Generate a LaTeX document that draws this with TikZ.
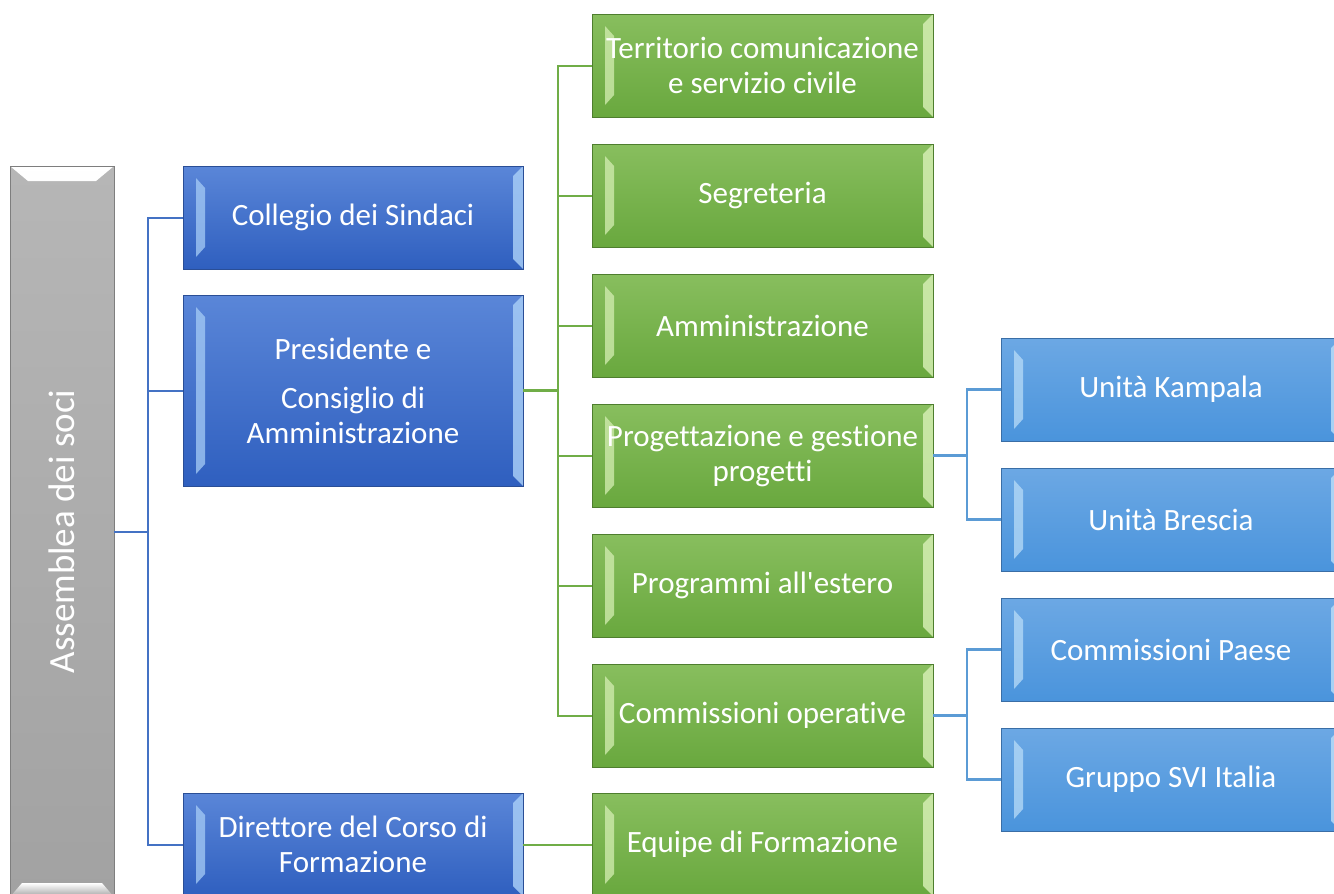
\documentclass[tikz,border=0pt]{standalone}
\usepackage{fontspec}
\setmainfont[Ligatures=NoCommon]{Carlito}
\newfontfamily\calfont[Ligatures=NoCommon]{Carlito}
\usetikzlibrary{calc}
\definecolor{dbT}{HTML}{5A86D8}\definecolor{dbB}{HTML}{2F5FBF}\definecolor{dbL}{HTML}{A6CCF6}\definecolor{dbE}{HTML}{2A4E96}
\definecolor{lbT}{HTML}{6CA8E4}\definecolor{lbB}{HTML}{4A94DC}\definecolor{lbL}{HTML}{B8DCF8}\definecolor{lbE}{HTML}{3A6EA6}
\definecolor{gT}{HTML}{88BE5E}\definecolor{gB}{HTML}{69A83E}\definecolor{gL}{HTML}{D4EEB2}\definecolor{gE}{HTML}{4E7E2E}
\definecolor{grT}{HTML}{B6B6B6}\definecolor{grB}{HTML}{A2A2A2}\definecolor{grE}{HTML}{7E7E7E}
\definecolor{bline}{HTML}{4472C4}\definecolor{gline}{HTML}{70AD47}\definecolor{lline}{HTML}{5B9BD5}
\tikzset{
  box/.style={rectangle, inner sep=0pt, outer sep=0pt, text=white,
    font=\calfont\fontsize{31}{35}\selectfont, align=center, line width=0.8pt},
  bev/.style={path picture={
    \fill[#1, opacity=0.75] ($(path picture bounding box.north west)+(13,12)$)
      -- ($(path picture bounding box.north west)+(22,22)$)
      -- ($(path picture bounding box.south west)+(22,-22)$)
      -- ($(path picture bounding box.south west)+(13,-12)$) -- cycle;
    \fill[#1, opacity=0.85] (path picture bounding box.north east)
      -- ($(path picture bounding box.north east)+(-10,10)$)
      -- ($(path picture bounding box.south east)+(-10,-10)$)
      -- (path picture bounding box.south east) -- cycle;
  }},
  dbox/.style={box, minimum width=340, minimum height=103, top color=dbT, bottom color=dbB, draw=dbE, bev=dbL},
  lbox/.style={box, minimum width=340, minimum height=103, top color=lbT, bottom color=lbB, draw=lbE, bev=lbL},
  gbox/.style={box, minimum width=341, minimum height=103, top color=gT, bottom color=gB, draw=gE, bev=gL},
  greybox/.style={rectangle, inner sep=0pt, outer sep=0pt, minimum width=104, minimum height=731,
    top color=grT, bottom color=grB, draw=grE, line width=0.8pt,
    path picture={
      \shade[top color=white, bottom color=grT] (path picture bounding box.north west)
        -- (path picture bounding box.north east)
        -- ($(path picture bounding box.north east)+(-18,15)$)
        -- ($(path picture bounding box.north west)+(18,15)$) -- cycle;
      \shade[top color=white, bottom color=grB] ($(path picture bounding box.south west)+(12,-14)$)
        -- ($(path picture bounding box.south east)+(-12,-14)$)
        -- (path picture bounding box.south east)
        -- (path picture bounding box.south west) -- cycle;
    }},
  bl/.style={draw=bline, line width=2pt},
  gl/.style={draw=gline, line width=2pt},
  ll/.style={draw=lline, line width=2.2pt},
}
\begin{document}
\begin{tikzpicture}[x=1pt,y=-1pt]
\path[use as bounding box, clip] (0,0) rectangle (1334,894);
\fill[white] (0,0) rectangle (1334,894);

% left column
\node[greybox] (assem) at (62,531.5) {};
\node[rotate=90, text=white, font=\calfont\fontsize{37}{40}\selectfont] (assemt) at (assem.center) {Assemblea dei soci};

% blue column
\node[dbox] (coll) at (353,217.5) {Collegio dei Sindaci};
\node[dbox, minimum height=191] (pres) at (353,390.5) {Presidente e\\[14pt]Consiglio di\\Amministrazione};
\node[dbox] (dir) at (353,844.5) {Direttore del Corso di\\Formazione};

% green column
\node[gbox] (terr) at (762.5,65.5) {Territorio comunicazione\\e servizio civile};
\node[gbox] (segr) at (762.5,195.5) {Segreteria};
\node[gbox] (ammi) at (762.5,325.5) {Amministrazione};
\node[gbox] (prog) at (762.5,455.5) {Progettazione e gestione\\progetti};
\node[gbox] (prgm) at (762.5,585.5) {Programmi all'estero};
\node[gbox] (cope) at (762.5,715.5) {Commissioni operative};
\node[gbox] (equi) at (762.5,844.5) {Equipe di Formazione};

% right column
\node[lbox] (kamp) at (1171,389.5) {Unità Kampala};
\node[lbox] (bres) at (1171,519.5) {Unità Brescia};
\node[lbox] (cpae) at (1171,649.5) {Commissioni Paese};
\node[lbox] (svi) at (1171,779.5) {Gruppo SVI Italia};

% connectors
\coordinate (bj) at (148,531.5);
\draw[bl] (assem.east) -- (bj);
\draw[bl] (coll.west) -| (bj);
\draw[bl] (pres.west) -| (bj);
\draw[bl] (dir.west) -| (bj);

\coordinate (gj) at (558,390.5);
\draw[gl, line width=3.5pt] (pres.east) -- (gj);
\foreach \n in {terr,segr,ammi,prog,prgm,cope}{\draw[gl] (\n.west) -| (gj);}
\draw[gl] (dir.east) -- (equi.west);

\coordinate (pj) at (967,455.5);
\draw[ll, line width=3.2pt] (prog.east) -- (pj);
\draw[ll] (kamp.west) -| (pj);
\draw[ll] (bres.west) -| (pj);
\coordinate (cj) at (967,715.5);
\draw[ll, line width=3.2pt] (cope.east) -- (cj);
\draw[ll] (cpae.west) -| (cj);
\draw[ll] (svi.west) -| (cj);
\end{tikzpicture}
\end{document}
